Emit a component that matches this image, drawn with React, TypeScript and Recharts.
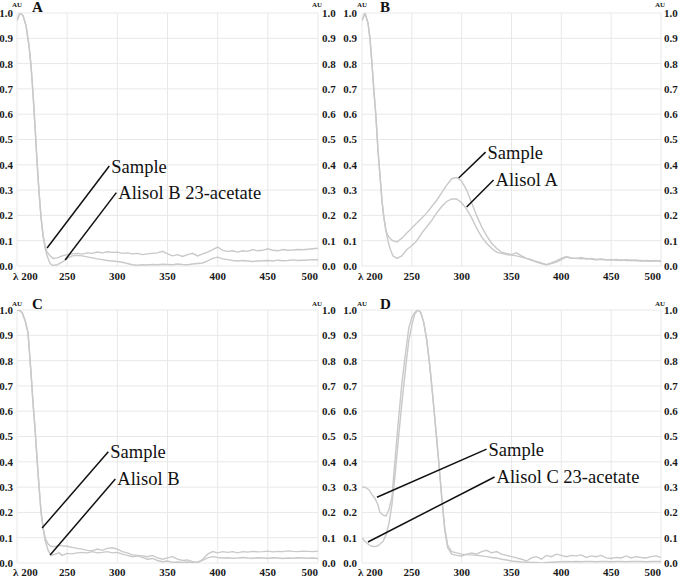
import React from 'react';
import { LineChart, Line, XAxis, YAxis, CartesianGrid, ReferenceLine, ReferenceDot } from 'recharts';

const FONT = '"Liberation Serif", "Times New Roman", serif';

const xTicks = [200, 250, 300, 350, 400, 450, 500];
const yTicks = [0, 0.1, 0.2, 0.3, 0.4, 0.5, 0.6, 0.7, 0.8, 0.9, 1.0];

// ---------- Panel A ----------
const aWavelength = [200, 203, 206, 209, 212, 214, 216, 218, 220, 222, 224, 226, 228, 230, 233, 236, 240,
  245, 250, 255, 260, 265, 270, 275, 280, 285, 290, 295, 300, 305, 310, 315, 320, 325, 330, 335, 340,
  345, 350, 355, 360, 365, 370, 375, 380, 385, 390, 395, 400, 405, 410, 415, 420, 425, 430, 435, 440,
  445, 450, 455, 460, 465, 470, 475, 480, 485, 490, 495, 500];
const aSample = [0.97, 1.0, 0.99, 0.95, 0.87, 0.79, 0.68, 0.55, 0.41, 0.29, 0.19, 0.12, 0.08, 0.055, 0.04, 0.03, 0.032,
  0.04, 0.045, 0.048, 0.05, 0.047, 0.052, 0.05, 0.055, 0.052, 0.056,
  0.054, 0.055, 0.05, 0.052, 0.048, 0.05, 0.045, 0.048, 0.05, 0.052,
  0.058, 0.048, 0.04, 0.045, 0.038, 0.045, 0.05, 0.04, 0.048, 0.055,
  0.065, 0.075, 0.062, 0.058, 0.06, 0.055, 0.06, 0.058, 0.065, 0.06,
  0.062, 0.068, 0.062, 0.06, 0.065, 0.062, 0.063, 0.065, 0.064, 0.066,
  0.068, 0.07];
const aStandard = [0.97, 1.0, 0.99, 0.95, 0.87, 0.79, 0.68, 0.55, 0.41, 0.29, 0.19, 0.12, 0.07, 0.04, 0.01, 0.002, 0.005,
  0.015, 0.03, 0.04, 0.042, 0.04, 0.036, 0.032, 0.028, 0.025, 0.022,
  0.02, 0.018, 0.015, 0.01, 0.005, 0.003, 0.005, 0.004, 0.006, 0.005,
  0.007, 0.006, 0.005, 0.008, 0.006, 0.005, 0.008, 0.01, 0.012, 0.02,
  0.03, 0.035, 0.028, 0.025, 0.022, 0.02, 0.022, 0.02, 0.018, 0.02,
  0.021, 0.022, 0.02, 0.023, 0.021, 0.022, 0.024, 0.022, 0.023, 0.024,
  0.025, 0.025];
const aNotes = [
  { text: 'Sample', x1: 292, y1: 0.395, x2: 230, y2: 0.071 },
  { text: 'Alisol B 23-acetate', x1: 299, y1: 0.29, x2: 248, y2: 0.024 },
];

// ---------- Panel B ----------
const bWavelength = [200, 203, 206, 208, 210, 212, 214, 216, 218, 220, 222, 224, 226, 228, 231, 235, 240,
  245, 250, 255, 260, 265, 270, 275, 280, 285, 290, 295, 300, 305, 310, 315, 320, 325, 330, 335, 340,
  345, 350, 355, 360, 365, 370, 375, 380, 385, 390, 395, 400, 405, 410, 415, 420, 425, 430, 435, 440,
  445, 450, 455, 460, 465, 470, 475, 480, 485, 490, 495, 500];
const bSample = [0.97, 1.0, 0.96, 0.9, 0.8, 0.69, 0.59, 0.46, 0.36, 0.26, 0.19, 0.14, 0.12, 0.11, 0.1, 0.095, 0.11,
  0.13, 0.15, 0.17, 0.19, 0.21, 0.235, 0.26, 0.29, 0.32, 0.345,
  0.35, 0.335, 0.3, 0.25, 0.2, 0.155, 0.12, 0.09, 0.07, 0.055,
  0.05, 0.045, 0.052, 0.04, 0.03, 0.025, 0.015, 0.01, 0.005, 0.012,
  0.02, 0.03, 0.038, 0.032, 0.03, 0.034, 0.028, 0.03, 0.026, 0.028,
  0.025, 0.024, 0.026, 0.022, 0.025, 0.022, 0.024, 0.02, 0.022, 0.02,
  0.022, 0.018];
const bStandard = [0.97, 1.0, 0.96, 0.9, 0.8, 0.69, 0.59, 0.46, 0.36, 0.26, 0.19, 0.14, 0.1, 0.07, 0.04, 0.03, 0.04,
  0.065, 0.08, 0.1, 0.13, 0.155, 0.18, 0.21, 0.235, 0.255, 0.265,
  0.265, 0.25, 0.225, 0.19, 0.15, 0.115, 0.09, 0.07, 0.055, 0.05,
  0.045, 0.043, 0.04, 0.035, 0.03, 0.022, 0.018, 0.012, 0.005, 0.01,
  0.015, 0.025, 0.035, 0.03, 0.03, 0.028, 0.03, 0.027, 0.025, 0.026,
  0.024, 0.025, 0.023, 0.024, 0.022, 0.023, 0.021, 0.022, 0.02, 0.021,
  0.02, 0.02];
const bNotes = [
  { text: 'Sample', x1: 324, y1: 0.45, x2: 297, y2: 0.348 },
  { text: 'Alisol A', x1: 332, y1: 0.34, x2: 305, y2: 0.233 },
];

// ---------- Panel C ----------
const cWavelength = [200, 202, 205, 208, 211, 214, 216, 218, 220, 222, 224, 226, 228, 231, 234, 238, 242,
  245, 250, 255, 260, 265, 270, 275, 280, 285, 290, 295, 300, 305, 310, 315, 320, 325, 330, 335, 340,
  345, 350, 355, 360, 365, 370, 375, 380, 385, 390, 395, 400, 405, 410, 415, 420, 425, 430, 435, 440,
  445, 450, 455, 460, 465, 470, 475, 480, 485, 490, 495, 500];
const cSample = [1.0, 1.0, 0.99, 0.96, 0.91, 0.75, 0.63, 0.53, 0.41, 0.3, 0.2, 0.14, 0.1, 0.075, 0.065, 0.065, 0.07,
  0.068, 0.066, 0.062, 0.058, 0.055, 0.05, 0.048, 0.055, 0.05, 0.058,
  0.06, 0.055, 0.045, 0.04, 0.032, 0.03, 0.028, 0.025, 0.03, 0.02,
  0.015, 0.02, 0.025, 0.015, 0.01, 0.012, 0.005, 0.0, 0.015, 0.035,
  0.045, 0.04, 0.045, 0.042, 0.045, 0.04, 0.045, 0.043, 0.046, 0.044,
  0.045, 0.047, 0.044, 0.046, 0.045, 0.048, 0.046, 0.045, 0.047, 0.046,
  0.045, 0.047];
const cStandard = [1.0, 1.0, 0.99, 0.96, 0.91, 0.75, 0.63, 0.53, 0.41, 0.3, 0.2, 0.14, 0.09, 0.05, 0.03, 0.035, 0.04,
  0.03, 0.038, 0.036, 0.04, 0.042, 0.04, 0.045, 0.04, 0.042, 0.045,
  0.04, 0.042, 0.035, 0.03, 0.025, 0.028, 0.022, 0.015, 0.018, 0.01,
  0.005, 0.008, 0.002, 0.004, 0.002, 0.004, 0.002, 0.004, 0.01, 0.02,
  0.025, 0.022, 0.02, 0.021, 0.019, 0.02, 0.022, 0.02, 0.019, 0.021,
  0.02, 0.019, 0.021, 0.02, 0.018, 0.02, 0.019, 0.021, 0.02, 0.019,
  0.02, 0.018];
const cNotes = [
  { text: 'Sample', x1: 291, y1: 0.44, x2: 225, y2: 0.138 },
  { text: 'Alisol B', x1: 298, y1: 0.332, x2: 233, y2: 0.032 },
];

// ---------- Panel D ----------
const dWavelength = [200, 203, 207, 210, 213, 216, 218, 221, 224, 227, 230, 233, 236, 240, 244, 247, 250, 253, 256, 259,
  262, 265, 268, 271, 274, 277, 280, 283, 286, 290,
  295, 300, 305, 310, 315, 320, 325, 330, 335, 340,
  345, 350, 355, 360, 365, 370, 375, 380, 385, 390, 395, 400, 405, 410, 415, 420, 425, 430, 435, 440,
  445, 450, 455, 460, 465, 470, 475, 480, 485, 490, 495, 500];
const dSample = [0.3, 0.3, 0.29, 0.27, 0.255, 0.23, 0.2, 0.19, 0.185, 0.21, 0.26, 0.4, 0.54, 0.71, 0.84, 0.93, 0.97, 0.99, 1.0, 0.99,
  0.95, 0.88, 0.78, 0.66, 0.53, 0.4, 0.26, 0.13, 0.06, 0.035,
  0.03, 0.028, 0.035, 0.04, 0.035, 0.045, 0.05, 0.04, 0.045, 0.035,
  0.03, 0.025, 0.02, 0.015, 0.008, 0.02, 0.025, 0.015, 0.03, 0.025,
  0.035, 0.03, 0.025, 0.03, 0.028, 0.032, 0.022, 0.028, 0.025, 0.03,
  0.02, 0.018, 0.022, 0.02, 0.028, 0.02, 0.025, 0.022, 0.02, 0.025,
  0.028, 0.022];
const dStandard = [0.1, 0.085, 0.072, 0.066, 0.065, 0.068, 0.075, 0.085, 0.11, 0.155, 0.23, 0.34, 0.47, 0.63, 0.78, 0.88, 0.94, 0.985, 1.0, 0.99,
  0.95, 0.88, 0.78, 0.66, 0.53, 0.4, 0.26, 0.14, 0.07, 0.045,
  0.04, 0.035, 0.033, 0.032, 0.03, 0.028, 0.025, 0.022, 0.02, 0.015,
  0.012, 0.008, 0.006, 0.004, 0.003, 0.002, 0.002, 0.0, 0.002, 0.003,
  0.004, 0.005, 0.006, 0.005, 0.006, 0.005, 0.006, 0.006, 0.005, 0.006,
  0.006, 0.005, 0.006, 0.006, 0.005, 0.006, 0.006, 0.006, 0.005, 0.006,
  0.006, 0.006];
const dNotes = [
  { text: 'Sample', x1: 325, y1: 0.45, x2: 215, y2: 0.26 },
  { text: 'Alisol C 23-acetate', x1: 333, y1: 0.34, x2: 206, y2: 0.083 },
];

const zip = (nm: number[], s: number[], t: number[]) =>
  nm.map((w, i) => ({ nm: w, sample: s[i], standard: t[i] }));

const tickTextStyle: React.CSSProperties = { fontFamily: FONT, fontSize: 11, fontWeight: 700, fill: '#1a1a1a' };
const auStyle: React.CSSProperties = { fontFamily: FONT, fontSize: 7, fontWeight: 700, fill: '#1a1a1a' };
const noteStyle: React.CSSProperties = { fontFamily: FONT, fontSize: 18.5, fontWeight: 400, fill: '#111' };

const XTick = (props: any) => {
  const { x, y, payload } = props;
  const v = payload.value;
  if (v === 200) {
    return (
      <text x={x - 4} y={y} dy="0.71em" textAnchor="start" style={tickTextStyle}>
        λ 200
      </text>
    );
  }
  if (v === 500) {
    return (
      <text x={x} y={y} dy="0.71em" textAnchor="end" style={tickTextStyle}>
        500
      </text>
    );
  }
  return (
    <text x={x} y={y} dy="0.71em" textAnchor="middle" style={tickTextStyle}>
      {String(v)}
    </text>
  );
};
const YTickLeft = (props: any) => {
  const { x, y, payload } = props;
  return (
    <text x={x} y={y} dy="0.36em" textAnchor="end" style={tickTextStyle}>
      {Number(payload.value).toFixed(1)}
    </text>
  );
};
const YTickRight = (props: any) => {
  const { x, y, payload } = props;
  return (
    <text x={x} y={y} dy="0.36em" textAnchor="start" style={tickTextStyle}>
      {Number(payload.value).toFixed(1)}
    </text>
  );
};

type PanelProps = {
  letter: string;
  data: any[];
  notes: { text: string; x1: number; y1: number; x2: number; y2: number }[];
  left: number;
  top: number;
  height: number;
  marginTop: number;
  xAxisHeight: number;
  xTickMargin: number;
  leftW: number;
  rightW: number;
  leftTM: number;
  rightTM: number;
  letterX: number;
  letterY: number;
  auLift: number;
};

function Panel(p: PanelProps) {
  const auLeft = (props: any) => {
    const vb = props.viewBox || {};
    return (
      <text x={vb.x + vb.width - 5} y={vb.y - p.auLift} textAnchor="start" style={auStyle}>
        AU
      </text>
    );
  };
  const auRight = (props: any) => {
    const vb = props.viewBox || {};
    return (
      <text x={vb.x + 4} y={vb.y - p.auLift} textAnchor="end" style={auStyle}>
        AU
      </text>
    );
  };
  return (
    <div style={{ position: 'absolute', left: p.left, top: p.top, width: 340, height: p.height }}>
      <LineChart width={340} height={p.height} data={p.data} margin={{ top: p.marginTop, right: 0, bottom: 0, left: 0 }}>
        <CartesianGrid stroke="#e8e8e8" strokeWidth={1} />
        <XAxis
          dataKey="nm"
          type="number"
          domain={[200, 500]}
          ticks={xTicks}
          allowDataOverflow
          axisLine={false}
          tickLine={false}
          tickSize={0}
          tickMargin={p.xTickMargin}
          height={p.xAxisHeight}
          interval={0}
          tick={<XTick />}
        />
        <YAxis
          type="number"
          domain={[0, 1]}
          ticks={yTicks}
          allowDataOverflow
          axisLine={false}
          tickLine={false}
          tickSize={0}
          tickMargin={p.leftTM}
          width={p.leftW}
          interval={0}
          tick={<YTickLeft />}
          label={{ content: auLeft }}
        />
        <YAxis
          yAxisId="r"
          orientation="right"
          type="number"
          domain={[0, 1]}
          ticks={yTicks}
          allowDataOverflow
          axisLine={false}
          tickLine={false}
          tickSize={0}
          tickMargin={p.rightTM}
          width={p.rightW}
          interval={0}
          tick={<YTickRight />}
          label={{ content: auRight }}
        />
        <Line yAxisId="r" type="linear" dataKey="standard" stroke="#c9c9c9" strokeWidth={1.4} dot={false} isAnimationActive={false} />
        <Line type="linear" dataKey="sample" stroke="#c9c9c9" strokeWidth={1.4} dot={false} isAnimationActive={false} />
        {p.notes.map((n, i) => (
          <ReferenceLine
            key={'l' + i}
            segment={[{ x: n.x1, y: n.y1 }, { x: n.x2, y: n.y2 }]}
            stroke="#111"
            strokeWidth={1.5}
            ifOverflow="visible"
          />
        ))}
        {p.notes.map((n, i) => (
          <ReferenceDot
            key={'d' + i}
            x={n.x1}
            y={n.y1}
            r={0}
            fill="none"
            stroke="none"
            ifOverflow="visible"
            label={{
              content: (lp: any) => {
                const vb = lp.viewBox || {};
                return (
                  <text x={vb.x + (vb.width || 0) + 2} y={vb.y + (vb.height || 0) / 2} dy="0.35em" textAnchor="start" style={noteStyle}>
                    {n.text}
                  </text>
                );
              },
            }}
          />
        ))}
      </LineChart>
      <div
        style={{
          position: 'absolute',
          left: p.letterX,
          top: p.letterY,
          fontFamily: FONT,
          fontWeight: 'bold',
          fontSize: 15,
          lineHeight: '15px',
          color: '#111',
        }}
      >
        {p.letter}
      </div>
    </div>
  );
}

export default function App() {
  return (
    <div style={{ position: 'absolute', left: 0, top: 0, width: 680, height: 578, background: '#fff', overflow: 'hidden', fontFamily: FONT }}>
      <Panel letter="A" data={zip(aWavelength, aSample, aStandard)} notes={aNotes} left={0} top={0} height={290}
        marginTop={13} xAxisHeight={24} xTickMargin={6} leftW={17} rightW={22} leftTM={4} rightTM={4} letterX={32} letterY={0} auLift={6} />
      <Panel letter="B" data={zip(bWavelength, bSample, bStandard)} notes={bNotes} left={340} top={0} height={290}
        marginTop={13} xAxisHeight={24} xTickMargin={6} leftW={22} rightW={19} leftTM={5} rightTM={3} letterX={40} letterY={0} auLift={6} />
      <Panel letter="C" data={zip(cWavelength, cSample, cStandard)} notes={cNotes} left={0} top={290} height={288}
        marginTop={20} xAxisHeight={15} xTickMargin={5} leftW={17} rightW={22} leftTM={4} rightTM={4} letterX={32} letterY={7} auLift={4} />
      <Panel letter="D" data={zip(dWavelength, dSample, dStandard)} notes={dNotes} left={340} top={290} height={288}
        marginTop={20} xAxisHeight={15} xTickMargin={5} leftW={22} rightW={19} leftTM={5} rightTM={3} letterX={40} letterY={7} auLift={4} />
    </div>
  );
}
